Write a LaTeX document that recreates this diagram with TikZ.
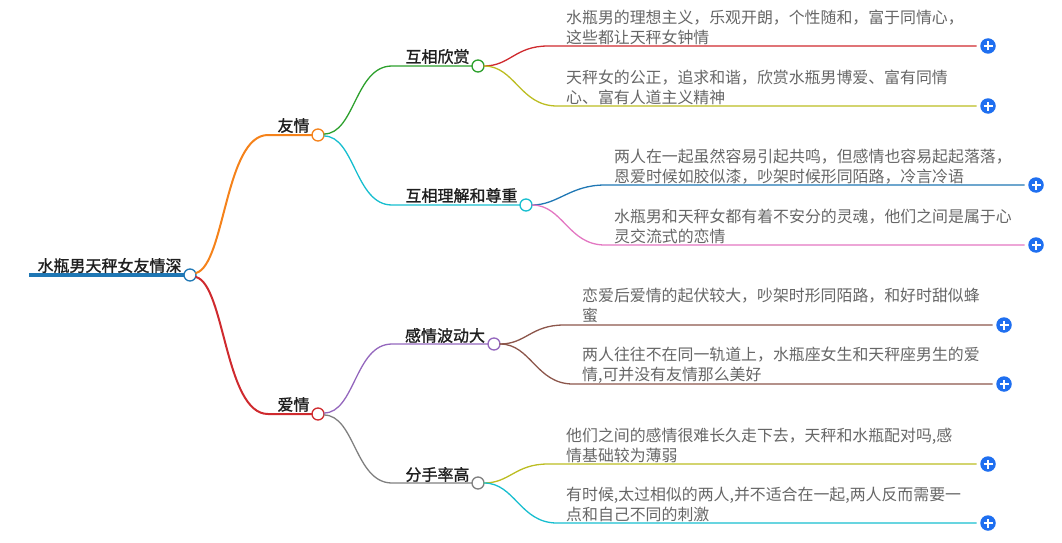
\documentclass[tikz,border=0pt]{standalone}
\usepackage{fontspec}
\setmainfont{Noto Sans CJK SC}
\newfontfamily\cjkbold[FakeBold=1.2]{Noto Sans CJK SC}
\definecolor{cblue}{HTML}{1F77B4}
\definecolor{corange}{HTML}{F5821A}
\definecolor{cred}{HTML}{CF2A2E}
\definecolor{cgreen}{HTML}{2CA02C}
\definecolor{ccyan}{HTML}{17BECF}
\definecolor{cpurple}{HTML}{9467BD}
\definecolor{cbrown}{HTML}{8C564B}
\definecolor{cpink}{HTML}{E377C2}
\definecolor{cgray}{HTML}{7F7F7F}
\definecolor{colive}{HTML}{BCBD22}
\definecolor{cplus}{HTML}{1F6FF0}
\tikzset{
  x=1pt,y=-1pt,
  dot/.style={circle,draw=#1,fill=white,line width=1.3pt,minimum size=12pt,inner sep=0pt,outer sep=0pt},
  plusbtn/.style={circle,fill=cplus,minimum size=15.5pt,inner sep=0pt,outer sep=4pt,
    path picture={\draw[white,line width=1.5pt] (path picture bounding box.center) ++(-4.5pt,0)--++(9pt,0)
      (path picture bounding box.center) ++(0,-4.5pt)--++(0,9pt);}},
  leaf/.style={anchor=west,align=left,inner sep=0pt,text=black!60,font=\fontsize{15.9pt}{20pt}\selectfont},
  head/.style={inner sep=0pt,text=black!88,font=\cjkbold\fontsize{16pt}{20pt}\selectfont},
  lnk/.style={line width=#1,line cap=round},
  lnk/.default=1.3pt
}
\begin{document}
\begin{tikzpicture}
\useasboundingbox (0,0) rectangle (1062,543);
% circles
\node[dot=cblue] (root) at (190,275) {};
\node[dot=corange] (you) at (318,135) {};
\node[dot=cred] (ai) at (318,414) {};
\node[dot=cgreen] (a1) at (478,66) {};
\node[dot=ccyan] (a2) at (526,205) {};
\node[dot=cpurple] (b1) at (494,344) {};
\node[dot=cgray] (b2) at (478,483) {};
% plus buttons
\node[plusbtn] (p1) at (988,46) {};
\node[plusbtn] (p2) at (988,106) {};
\node[plusbtn] (p3) at (1036,185) {};
\node[plusbtn] (p4) at (1036,245) {};
\node[plusbtn] (p5) at (1004,325) {};
\node[plusbtn] (p6) at (1004,384) {};
\node[plusbtn] (p7) at (988,464) {};
\node[plusbtn] (p8) at (988,523) {};
% root
\coordinate (start) at (29,275);
\draw[cblue,line width=3.6pt] (start) -- (root.west);
% level 1
\draw[corange,lnk=2pt] (root.east) ++(0,-2) .. controls +(29,-8) and (225,135) .. (268,135) -- (you.west);
\draw[cred,lnk=2pt] (root.east) ++(0,2) .. controls +(29,8) and (225,414) .. (268,414) -- (ai.west);
% level 2
\draw[cgreen,lnk] (you.east) ++(0,-1) .. controls (355,134) and (355,66) .. (392,66) -- (a1.west);
\draw[ccyan,lnk] (you.east) ++(0,1) .. controls (355,136) and (355,205) .. (392,205) -- (a2.west);
\draw[cpurple,lnk] (ai.east) ++(0,-1) .. controls (355,413) and (355,344) .. (392,344) -- (b1.west);
\draw[cgray,lnk] (ai.east) ++(0,1) .. controls (355,415) and (355,483) .. (392,483) -- (b2.west);
% level 3
\draw[cred,lnk] (a1.east) .. controls +(26,0) and (515,46) .. (548,46) -- (p1.west);
\draw[colive,lnk] (a1.east) .. controls +(31,0) and (520,106) .. (557,106) -- (p2.west);
\draw[cblue,lnk] (a2.east) .. controls +(26,0) and (570,185) .. (605,185) -- (p3.west);
\draw[cpink,lnk] (a2.east) .. controls +(31,0) and (568,245) .. (605,245) -- (p4.west);
\draw[cbrown,lnk] (b1.east) .. controls +(26,0) and (531,325) .. (564,325) -- (p5.west);
\draw[cbrown,lnk] (b1.east) .. controls +(31,0) and (536,384) .. (573,384) -- (p6.west);
\draw[colive,lnk] (b2.east) .. controls +(26,0) and (515,464) .. (548,464) -- (p7.west);
\draw[ccyan,lnk] (b2.east) .. controls +(31,0) and (520,523) .. (557,523) -- (p8.west);
% heads
\node[head,anchor=center] (troot) at (109.5,265.5) {水瓶男天秤女友情深};
\node[head,anchor=center] (tyou) at (293.5,125.5) {友情};
\node[head,anchor=center] (tai) at (293.5,404.5) {爱情};
\node[head,anchor=center] (ta1) at (437.5,56.5) {互相欣赏};
\node[head,anchor=center] (ta2) at (461.5,195.5) {互相理解和尊重};
\node[head,anchor=center] (tb1) at (445,335.5) {感情波动大};
\node[head,anchor=center] (tb2) at (437.5,474.5) {分手率高};
% leaves
\node[leaf] (l1) at (566,27.5) {水瓶男的理想主义，乐观开朗，个性随和，富于同情心，\\这些都让天秤女钟情};
\node[leaf] (l2) at (566,87) {天秤女的公正，追求和谐，欣赏水瓶男博爱、富有同情\\心、富有人道主义精神};
\node[leaf] (l3) at (614,166.5) {两人在一起虽然容易引起共鸣，但感情也容易起起落落，\\恩爱时候如胶似漆，吵架时候形同陌路，冷言冷语};
\node[leaf] (l4) at (614,226) {水瓶男和天秤女都有着不安分的灵魂，他们之间是属于心\\灵交流式的恋情};
\node[leaf] (l5) at (582,305.5) {恋爱后爱情的起伏较大，吵架时形同陌路，和好时甜似蜂\\蜜};
\node[leaf] (l6) at (582,365) {两人往往不在同一轨道上，水瓶座女生和天秤座男生的爱\\情,可并没有友情那么美好};
\node[leaf] (l7) at (566,445) {他们之间的感情很难长久走下去，天秤和水瓶配对吗,感\\情基础较为薄弱};
\node[leaf] (l8) at (566,504) {有时候,太过相似的两人,并不适合在一起,两人反而需要一\\点和自己不同的刺激};
\end{tikzpicture}
\end{document}
